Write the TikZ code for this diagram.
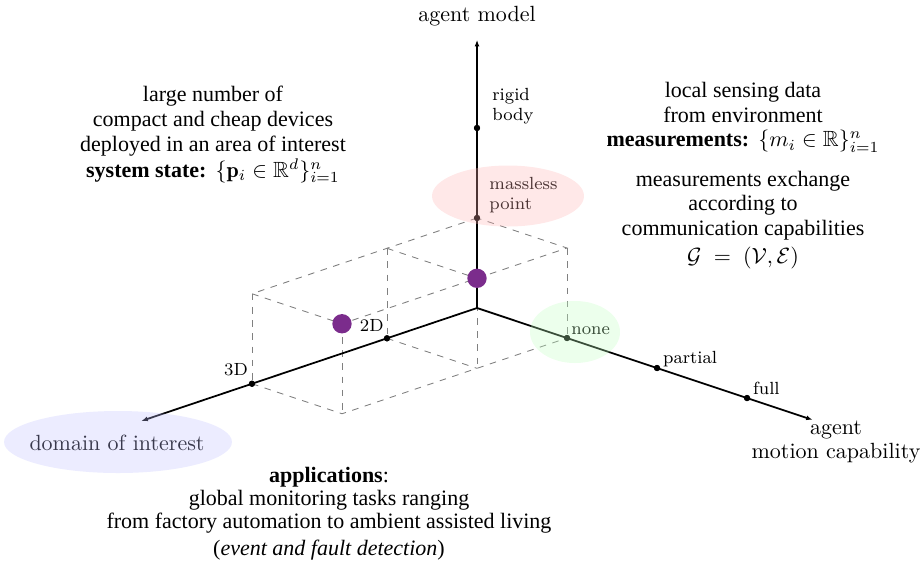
\documentclass[tikz,border=0pt]{standalone}
\usepackage{amsmath,amssymb}
\usepackage{fontspec}
\newfontfamily\tnr{Liberation Serif}
\usetikzlibrary{arrows.meta}
\definecolor{agentpurple}{RGB}{123,44,140}

\begin{document}
\begin{tikzpicture}[x=0.4545pt,y=-0.4545pt,
  axis/.style={thick,-{Latex[length=3pt,width=2.2pt]}},
  guide/.style={dashed,black!50,line width=0.4pt},
  tickdot/.style={circle,fill=black,inner sep=0pt,minimum size=2.8pt},
  agentdot/.style={circle,fill=agentpurple,inner sep=0pt,minimum size=8.8pt},
  desc/.style={align=center,inner sep=0pt,anchor=base},
  axlabel/.style={align=center,inner sep=0pt,anchor=base},
  ticklabel/.style={font=\fontsize{8}{8.7}\selectfont,align=left,inner sep=0pt},
  halo/.style={fill opacity=0.3}
]
\useasboundingbox (0,0) rectangle (923,567);

% ---- the three design axes, drawn in an oblique frame ----
\begin{scope}[shift={(477,308)},
  x={(-40.91pt,-13.77pt)}, y={(40.91pt,-13.64pt)}, z={(0pt,40.91pt)}]
  \coordinate (O)    at (0,0,0);
  \coordinate (Xend) at (3.73,0,0);
  \coordinate (Yend) at (0,3.73,0);
  \coordinate (Zend) at (0,0,2.98);
  % corners of the dashed reference boxes
  \coordinate (A) at (1,0,1);
  \coordinate (B) at (0,1,1);
  \coordinate (D) at (2.5,0,1);
  \coordinate (F) at (2.5,1,0);
  \coordinate (G) at (1,1,0);

  \node[tickdot] (x2D)   at (1,0,0) {};
  \node[tickdot] (x3D)   at (2.5,0,0) {};
  \node[tickdot] (yNone) at (0,1,0) {};
  \node[tickdot] (yPart) at (0,2,0) {};
  \node[tickdot] (yFull) at (0,3,0) {};
  \node[tickdot] (zMass) at (0,0,1) {};
  \node[tickdot] (zRig)  at (0,0,2) {};
  \coordinate (C) at (1,1,1);
  \coordinate (E) at (2.5,1,1);

  % dashed boxes
  \draw[guide] (zMass.center) -- (A) -- (D) -- (E) -- (C) -- (B) -- (zMass.center);
  \draw[guide] (A) -- (C);
  \draw[guide] (A) -- (x2D.center);
  \draw[guide] (B) -- (yNone.center);
  \draw[guide] (D) -- (x3D.center);
  \draw[guide] (E) -- (F);
  \draw[guide] (C) -- (G);
  \draw[guide] (x3D.center) -- (F) -- (G) -- (yNone.center);
  \draw[guide] (x2D.center) -- (G);

  % axes
  \draw[axis] (O) -- (Xend);
  \draw[axis] (O) -- (Yend);
  \draw[axis] (O) -- (Zend);

  % redraw the tick dots above the axes
  \foreach \n in {x2D,x3D,yNone,yPart,yFull,zMass,zRig}
    \fill (\n) circle (1.4pt);

  % the two agents
  \node[agentdot] (agentA) at (C) {};
  \node[agentdot] (agentB) at (E) {};
\end{scope}

% ---- axis names ----
\node[axlabel] (zlab) at (477,21) {agent model};
\node[axlabel,font=\fontsize{10}{10.5}\selectfont] (ylab) at (836,458) {agent\\motion capability};
\node[axlabel] (xlab) at (117,450.7) {domain of interest};

% ---- tick labels (anchored at the baseline of their last line) ----
\node[ticklabel,anchor=base west] (lRig)  at (492,120)   {rigid\\body};
\node[ticklabel,anchor=base west] (lMass) at (489,209)   {massless\\point};
\node[ticklabel,anchor=base west] (lNone) at (571,334)   {none};
\node[ticklabel,anchor=base west] (lPart) at (662.7,363.5) {partial};
\node[ticklabel,anchor=base west] (lFull) at (752.7,394) {full};
\node[ticklabel,anchor=base east] (l2D)   at (384,331.7) {2D};
\node[ticklabel,anchor=base east] (l3D)   at (248.3,375.7) {3D};

% ---- descriptions (anchored at the baseline of their last line) ----
\node[desc,font=\tnr\fontsize{10}{11.4}\selectfont] (state) at (213,177)
  {large number of\\compact and cheap devices\\deployed in an area of interest\\
   \textbf{system state:}~\,$\{\mathbf{p}_i\in\mathbb{R}^d\}_{i=1}^n$};
\node[desc,font=\tnr\fontsize{10}{11.1}\selectfont] (meas) at (743,263)
  {local sensing data\\from environment\\
   \textbf{measurements:}~\,$\{m_i\in\mathbb{R}\}_{i=1}^n$\\[6.8pt]
   measurements exchange\\according to\\communication capabilities\\[1.6pt]
   $\mathcal{G}\;=\;(\mathcal{V},\mathcal{E})$};
\node[desc,font=\tnr\fontsize{10}{10.45}\selectfont] (apps) at (329,555)
  {\textbf{applications}:\\global monitoring tasks ranging\\
   from factory automation to ambient assisted living\\[1.4pt]
   (\textit{event and fault detection})};

% ---- translucent highlights over the chosen values ----
\fill[red!30,halo]   (508,196) ellipse [x radius=34.54pt, y radius=13.86pt];
\fill[green!25,halo] (575,332) ellipse [x radius=20.45pt, y radius=14.09pt];
\fill[blue!25,halo]  (118,442) ellipse [x radius=51.8pt, y radius=14.09pt];
\end{tikzpicture}
\end{document}
